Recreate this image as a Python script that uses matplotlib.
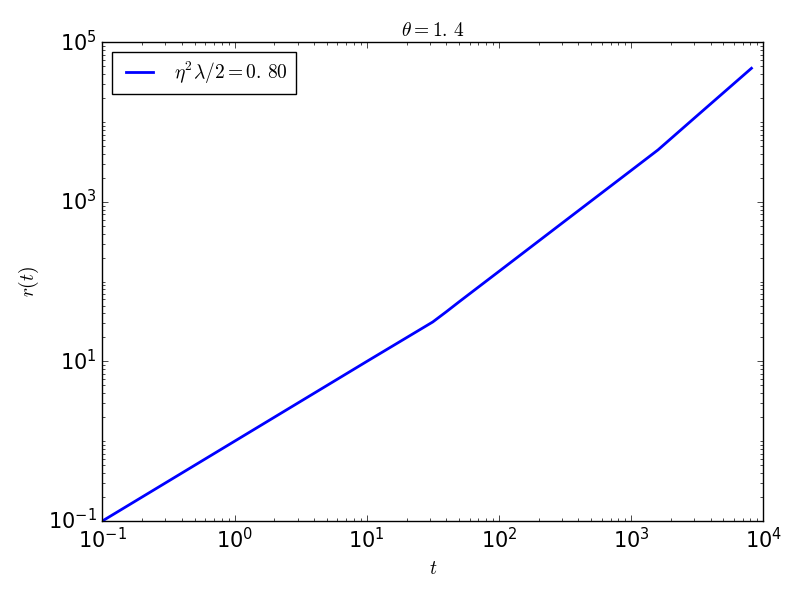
import matplotlib
matplotlib.use("Agg")
import matplotlib.pyplot as plt
from matplotlib.ticker import LogLocator, FixedLocator, LogFormatterMathtext, NullFormatter

plt.style.use("classic")
plt.rcParams["mathtext.fontset"] = "cm"

# data
t_values = [0.1, 1.0, 10.0, 31.6, 40.0, 50.0, 100.0, 300.0, 1000.0, 1600.0, 3000.0, 8150.0]
r_values = [0.1, 1.0, 10.0, 31.3, 42.0, 56.0, 134.5, 541.0, 2480.0, 4500.0, 11200.0, 47500.0]
legend_label = r"$\eta^2\lambda/2=0.\,80$"
title_text = r"$\theta=1.\,4$"
y_major_ticks = [1e-1, 1e1, 1e3, 1e5]

fig = plt.figure(figsize=(8, 6), dpi=100)
ax = fig.add_axes([0.128, 0.1317, 0.826, 0.7975])
ax.plot(t_values, r_values, color="blue", lw=2, label=legend_label)
ax.set_xscale("log")
ax.set_yscale("log")
ax.set_xlim(1e-1, 1e4)
ax.set_ylim(1e-1, 1e5)

ax.yaxis.set_major_locator(FixedLocator(y_major_ticks))
ax.yaxis.set_major_formatter(LogFormatterMathtext())
ax.yaxis.set_minor_locator(LogLocator(base=10, subs=range(1, 10), numticks=50))
ax.yaxis.set_minor_formatter(NullFormatter())
ax.xaxis.set_major_locator(LogLocator(base=10, numticks=20))
ax.xaxis.set_minor_locator(LogLocator(base=10, subs=range(2, 10), numticks=50))
ax.xaxis.set_minor_formatter(NullFormatter())

ax.tick_params(labelsize=15)
ax.set_xlabel(r"$t$", fontsize=14)
ax.set_ylabel(r"$r(t)$", fontsize=14)
ax.set_title(title_text, fontsize=14)
leg = ax.legend(loc="upper left", fontsize=14)

fig.savefig("out.png", dpi=100)
